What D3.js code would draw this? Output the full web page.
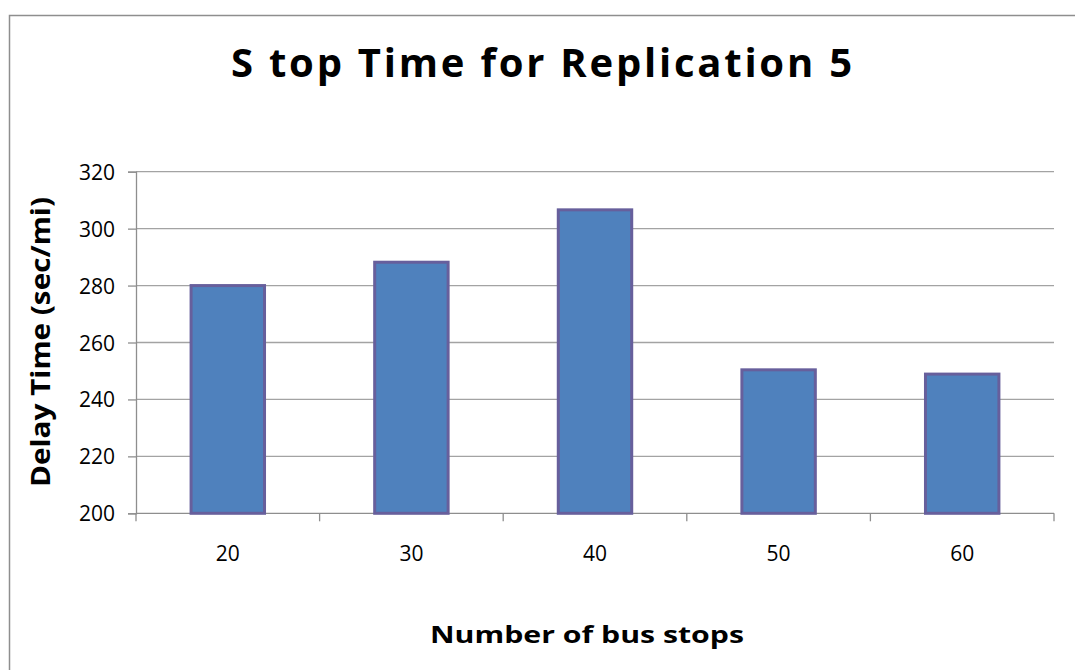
<!DOCTYPE html>
<html>
<head>
<meta charset="utf-8">
<script src="https://cdn.jsdelivr.net/npm/d3@7"></script>
<style>
  html, body { margin: 0; padding: 0; background: #fff; }
  svg { display: block; }
  text { font-family: "Open Sans", "Liberation Sans", sans-serif; fill: #000; }
</style>
</head>
<body>
<svg id="chart" width="1075" height="670"></svg>
<script>
// Stop time per number of bus stops (replication 5)
const categories = ["20", "30", "40", "50", "60"];
const delayValues = [280, 288.2, 306.6, 250.4, 248.9];
const yTicks = [200, 220, 240, 260, 280, 300, 320];

const titleText = "S top Time for Replication 5";
const xTitle = "Number of bus stops";
const yTitle = "Delay Time (sec/mi)";

const svg = d3.select("#chart");
const W = 1075, H = 670;
const plot = { left: 136, right: 1054, top: 171.7, bottom: 513.3 };

// outer chart frame
svg.append("rect")
  .attr("x", 9.5).attr("y", 15.5)
  .attr("width", W + 20).attr("height", H + 20)
  .attr("fill", "#fff")
  .attr("stroke", "#8e8e8e").attr("stroke-width", 1.5);

const x = d3.scaleBand()
  .domain(categories)
  .range([plot.left, plot.right])
  .paddingInner(0.6)
  .paddingOuter(0.3);

const y = d3.scaleLinear()
  .domain([200, 320])
  .range([plot.bottom, plot.top]);

// horizontal gridlines
svg.append("g")
  .selectAll("line")
  .data(yTicks.filter(t => t !== 200))
  .join("line")
  .attr("x1", plot.left).attr("x2", plot.right)
  .attr("y1", d => y(d)).attr("y2", d => y(d))
  .attr("stroke", "#a3a3a3").attr("stroke-width", 1.3);

// y axis
const yAxis = svg.append("g")
  .attr("transform", `translate(${plot.left},0)`)
  .call(d3.axisLeft(y).tickValues(yTicks).tickSize(8).tickPadding(13));
yAxis.select(".domain").attr("stroke", "#8e8e8e").attr("stroke-width", 1.3);
yAxis.selectAll(".tick line").attr("stroke", "#8e8e8e").attr("stroke-width", 1.3);
yAxis.selectAll(".tick text")
  .style("font-family", "'Open Sans', sans-serif")
  .style("font-size", "21px")
  .attr("dy", "0.36em");

// x axis: ticks at the band boundaries, labels at band centres
const xAxisG = svg.append("g")
  .attr("transform", `translate(0,${plot.bottom})`);
xAxisG.append("line")
  .attr("x1", plot.left).attr("x2", plot.right)
  .attr("stroke", "#8e8e8e").attr("stroke-width", 1.3);
const boundaries = categories.map(c => x(c) - x.step() * x.paddingInner() / 2 - (x.step() * (1 - x.paddingInner()) - x.bandwidth()) / 2);
const tickXs = d3.range(categories.length + 1).map(i => plot.left + i * x.step());
xAxisG.selectAll("line.tk")
  .data(tickXs)
  .join("line")
  .attr("class", "tk")
  .attr("x1", d => d).attr("x2", d => d)
  .attr("y1", 0).attr("y2", 8)
  .attr("stroke", "#8e8e8e").attr("stroke-width", 1.3);
xAxisG.selectAll("text.lbl")
  .data(categories)
  .join("text")
  .attr("class", "lbl")
  .attr("x", d => x(d) + x.bandwidth() / 2)
  .attr("y", 48)
  .attr("text-anchor", "middle")
  .style("font-size", "21px")
  .text(d => d);

// bars
svg.append("g")
  .selectAll("rect")
  .data(categories.map((c, i) => ({ c, v: delayValues[i] })))
  .join("rect")
  .attr("x", d => x(d.c))
  .attr("width", x.bandwidth())
  .attr("y", d => y(d.v))
  .attr("height", d => y(200) - y(d.v))
  .attr("fill", "#4f81bd")
  .attr("stroke", "#675f9c")
  .attr("stroke-width", 3);

// chart title
svg.append("text")
  .attr("x", 231).attr("y", 77)
  .attr("textLength", 621).attr("lengthAdjust", "spacing")
  .style("font-size", "40px").style("font-weight", "bold")
  .text(titleText);

// axis titles
svg.append("text")
  .attr("x", 430).attr("y", 643)
  .attr("textLength", 314).attr("lengthAdjust", "spacingAndGlyphs")
  .style("font-size", "24px").style("font-weight", "bold")
  .text(xTitle);

svg.append("text")
  .attr("transform", "translate(50,487) rotate(-90)")
  .attr("x", 0).attr("y", 0)
  .attr("textLength", 290).attr("lengthAdjust", "spacingAndGlyphs")
  .style("font-size", "27px").style("font-weight", "bold")
  .text(yTitle);
</script>
</body>
</html>
